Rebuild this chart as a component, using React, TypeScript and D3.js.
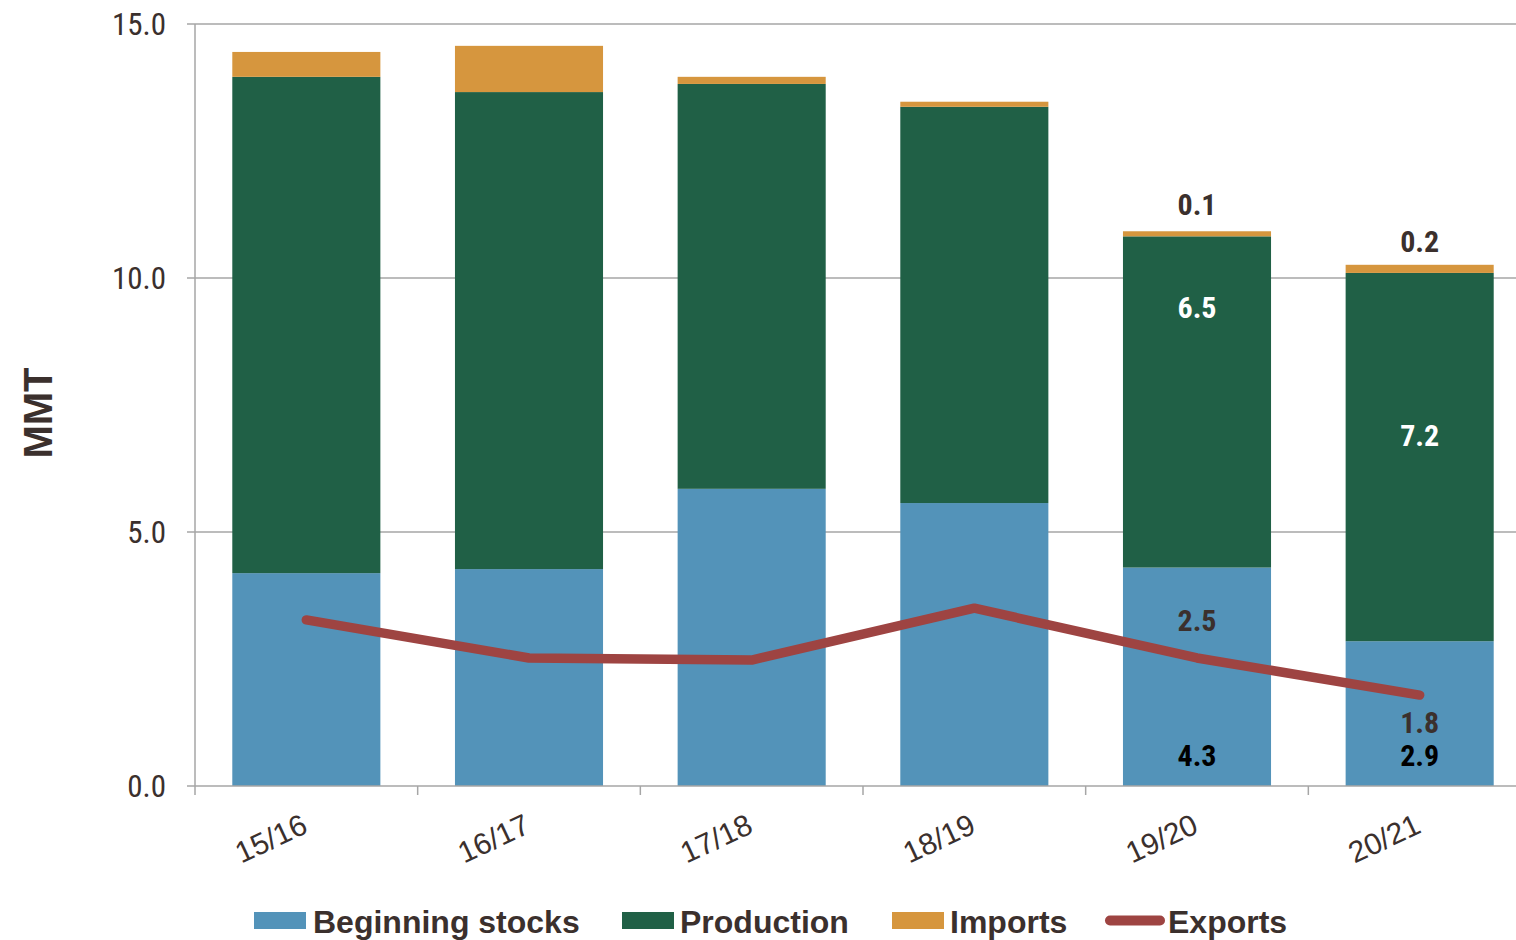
import React from "react";
import * as d3 from "d3";

const categories = ["15/16", "16/17", "17/18", "18/19", "19/20", "20/21"];
const beginningStocks = [4.19, 4.27, 5.85, 5.57, 4.3, 2.85];
const production = [9.77, 9.39, 7.97, 7.8, 6.52, 7.25];
const imports = [0.49, 0.91, 0.14, 0.1, 0.1, 0.16];
const exportsSeries = [3.27, 2.52, 2.48, 3.5, 2.52, 1.79];
const yTicks = [0, 5, 10, 15];

type Label = { cat: string; value: number; text: string; pos: number; color: string };
const dataLabels: Label[] = [
  { cat: "19/20", value: 0.1, text: "0.1", pos: 11.45, color: "#3b302d" },
  { cat: "19/20", value: 6.5, text: "6.5", pos: 9.42, color: "#ffffff" },
  { cat: "19/20", value: 2.5, text: "2.5", pos: 3.26, color: "#3b302d" },
  { cat: "19/20", value: 4.3, text: "4.3", pos: 0.6, color: "#000000" },
  { cat: "20/21", value: 0.2, text: "0.2", pos: 10.72, color: "#3b302d" },
  { cat: "20/21", value: 7.2, text: "7.2", pos: 6.9, color: "#ffffff" },
  { cat: "20/21", value: 1.8, text: "1.8", pos: 1.25, color: "#3b302d" },
  { cat: "20/21", value: 2.9, text: "2.9", pos: 0.6, color: "#000000" },
];

const COLORS = { stocks: "#5393b9", prod: "#206046", imp: "#d6963e", exp: "#9e4442" };
const TEXT = "#3b302d";
const COND = "'Liberation Sans Narrow', 'Roboto Condensed', 'Arial Narrow', sans-serif";
const SANS = "'Liberation Sans', Arial, sans-serif";

export default function App() {
  const W = 1516, H = 940;
  const left = 195, right = 1531, top = 24, bottom = 786;
  const x = d3.scaleBand<string>().domain(categories).range([left, right]).paddingInner(0.335).paddingOuter(0.1675);
  const y = d3.scaleLinear().domain([0, 15]).range([bottom, top]);
  const bw = x.bandwidth();
  const cx = (c: string) => (x(c) as number) + bw / 2;

  const line = d3.line<number>().x((_, i) => cx(categories[i])).y((d) => y(d));

  const stackData = categories.map((c, i) => ({ c, s: beginningStocks[i], p: production[i], m: imports[i] }));
  const stack = d3.stack<any>().keys(["s", "p", "m"])(stackData);
  const fills = [COLORS.stocks, COLORS.prod, COLORS.imp];

  const tickPositions = d3.range(categories.length + 1).map((i) => left + i * x.step());

  const legend = [
    { name: "Beginning stocks", type: "rect", color: COLORS.stocks, x: 254, tx: 313 },
    { name: "Production", type: "rect", color: COLORS.prod, x: 622, tx: 680 },
    { name: "Imports", type: "rect", color: COLORS.imp, x: 892, tx: 950 },
    { name: "Exports", type: "line", color: COLORS.exp, x: 1106, tx: 1168 },
  ];

  return (
    <svg width={W} height={H} style={{ position: "absolute", left: 0, top: 0, background: "#fff" }}>
      {yTicks.filter((t) => t > 0).map((t) => (
        <line key={t} x1={left} x2={W} y1={y(t)} y2={y(t)} stroke="#a6a6a6" strokeWidth={1.5} />
      ))}
      {stack.map((layer, li) =>
        layer.map((d, i) => (
          <rect key={li + "-" + i} x={x(categories[i])} y={y(d[1])} width={bw} height={y(d[0]) - y(d[1])} fill={fills[li]} />
        ))
      )}
      <line x1={left} x2={left} y1={top} y2={bottom} stroke="#a6a6a6" strokeWidth={1.5} />
      {yTicks.map((t) => (
        <g key={t}>
          <line x1={left - 8} x2={left} y1={y(t)} y2={y(t)} stroke="#a6a6a6" strokeWidth={1.5} />
          <text x={166} y={y(t)} dy="0.36em" textAnchor="end" fontFamily={COND} fontSize={31} fill={TEXT}>
            {t.toFixed(1)}
          </text>
        </g>
      ))}
      <line x1={left} x2={W} y1={bottom} y2={bottom} stroke="#a6a6a6" strokeWidth={1.5} />
      {tickPositions.map((p, i) => (
        <line key={i} x1={p} x2={p} y1={bottom} y2={bottom + 9} stroke="#a6a6a6" strokeWidth={1.5} />
      ))}
      {categories.map((c) => (
        <text key={c} transform={`translate(${cx(c) + 3},${832}) rotate(-25)`} textAnchor="end" fontFamily={SANS} fontSize={30} fill={TEXT}>
          {c}
        </text>
      ))}
      <path d={line(exportsSeries) || ""} fill="none" stroke={COLORS.exp} strokeWidth={9.5} strokeLinecap="round" strokeLinejoin="round" />
      {dataLabels.map((l, i) => (
        <text key={i} x={cx(l.cat)} y={y(l.pos)} dy="0.36em" textAnchor="middle" fontFamily={COND} fontWeight="bold" fontSize={30} fill={l.color}>
          {l.text}
        </text>
      ))}
      <text transform={`translate(52,413) rotate(-90)`} textAnchor="middle" fontFamily={SANS} fontWeight="bold" fontSize={40} fill={TEXT}>
        MMT
      </text>
      {legend.map((l) => (
        <g key={l.name}>
          {l.type === "rect" ? (
            <rect x={l.x} y={912} width={52} height={17} fill={l.color} />
          ) : (
            <line x1={l.x + 4} x2={l.x + 54} y1={920.5} y2={920.5} stroke={l.color} strokeWidth={10} strokeLinecap="round" />
          )}
          <text x={l.tx} y={921} dy="0.36em" fontFamily={SANS} fontWeight="bold" fontSize={32} fill={TEXT}>
            {l.name}
          </text>
        </g>
      ))}
    </svg>
  );
}
